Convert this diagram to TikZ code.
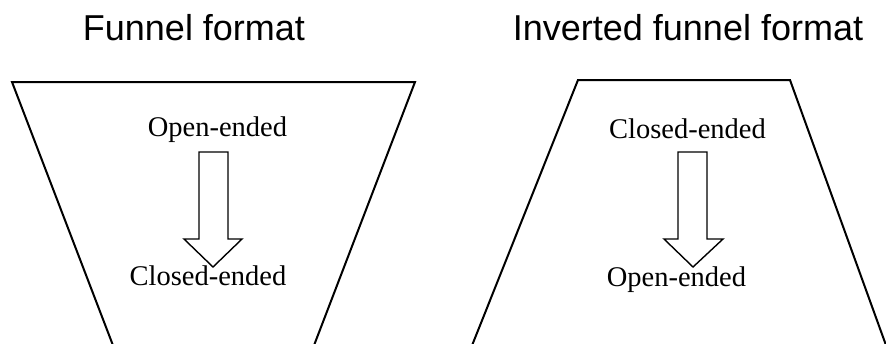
\documentclass[tikz,border=0pt]{standalone}
\usepackage{fontspec}
\setmainfont{Liberation Serif}
\newfontfamily\arialfont{Liberation Sans}
\begin{document}
\begin{tikzpicture}[x=1pt,y=-1pt,
  funnelline/.style={line width=2pt, line cap=butt},
  blockarrow/.style={line width=1.4pt, line join=miter, fill=white},
  title/.style={font=\arialfont\fontsize{36}{40}\selectfont, inner sep=0pt, anchor=base},
  label/.style={font=\fontsize{28.5}{32}\selectfont, inner sep=0pt, anchor=base}]
\useasboundingbox (0,0) rectangle (886,343);
\begin{scope}
\clip (0,0) rectangle (886,343);
% left funnel
\coordinate (LTL) at (12,82);
\coordinate (LTR) at (415,82);
\coordinate (LBL) at (114,348);
\coordinate (LBR) at (313,348);
\draw[funnelline] (LBL) -- (LTL) -- (LTR) -- (LBR);
% right funnel
\coordinate (RTL) at (578,80);
\coordinate (RTR) at (790,80);
\coordinate (RBL) at (471,348);
\coordinate (RBR) at (887,348);
\draw[funnelline] (RBL) -- (RTL) -- (RTR) -- (RBR);
\end{scope}
% titles
\node[title] (t1) at (194,40) {Funnel format};
\node[title] (t2) at (688,40) {Inverted funnel format};
% left arrow
\draw[blockarrow] (199,152) -- (228,152) -- (228,239) -- (242,239) -- (213,267) -- (184,239) -- (199,239) -- cycle;
% right arrow
\draw[blockarrow] (678,152) -- (707,152) -- (707,239) -- (723,239) -- (693,267) -- (664,239) -- (678,239) -- cycle;
% labels
\node[label] (lo) at (217.5,136) {Open-ended};
\node[label] (lc) at (208,285) {Closed-ended};
\node[label] (rc) at (687.5,138) {Closed-ended};
\node[label] (ro) at (676.5,286) {Open-ended};
\end{tikzpicture}
\end{document}
